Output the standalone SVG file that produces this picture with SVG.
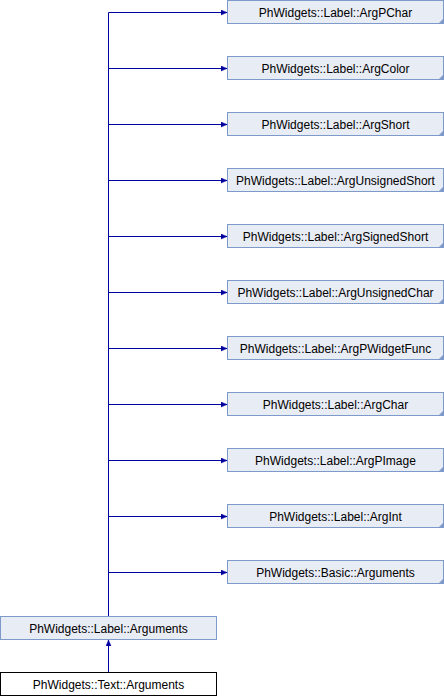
<svg xmlns="http://www.w3.org/2000/svg" width="444" height="696" viewBox="0 0 444 696">
<defs>
<style>
.n rect{fill:#E8ECF5;stroke:#7D9ACB;stroke-width:1}
.n.cur rect{fill:#FFFFFF;stroke:#000000}
.n polygon{fill:#7D9ACB}
.n text{font-family:"Liberation Sans",Arial,sans-serif;font-size:12px;fill:#000;text-anchor:middle}
.e{stroke:#0000A0;stroke-width:1;fill:none}
</style>
<marker id="ah" markerWidth="7" markerHeight="6" refX="6" refY="3" orient="auto" markerUnits="userSpaceOnUse">
<path d="M0,0.5 L6,3 L0,5.5 Z" fill="#0000A0" stroke="#0000A0" stroke-width="0.5"/>
</marker>
</defs>
<g id="connectors">
<path class="e" d="M108.5,616.5 V12.5"/>
<path class="e" d="M108.5,12.5 H227" marker-end="url(#ah)"/>
<path class="e" d="M108.5,68.5 H227" marker-end="url(#ah)"/>
<path class="e" d="M108.5,124.5 H227" marker-end="url(#ah)"/>
<path class="e" d="M108.5,180.5 H227" marker-end="url(#ah)"/>
<path class="e" d="M108.5,236.5 H227" marker-end="url(#ah)"/>
<path class="e" d="M108.5,292.5 H227" marker-end="url(#ah)"/>
<path class="e" d="M108.5,348.5 H227" marker-end="url(#ah)"/>
<path class="e" d="M108.5,404.5 H227" marker-end="url(#ah)"/>
<path class="e" d="M108.5,460.5 H227" marker-end="url(#ah)"/>
<path class="e" d="M108.5,516.5 H227" marker-end="url(#ah)"/>
<path class="e" d="M108.5,572.5 H227" marker-end="url(#ah)"/>
<path class="e" d="M108.5,672.5 V640" marker-end="url(#ah)"/>
</g>
<g id="n1" class="n"><rect x="227.5" y="0.5" width="216" height="23"/><polygon points="443.5,18.5 443.5,23.5 438.5,23.5"/><text x="335.5" y="16.5">PhWidgets::Label::ArgPChar</text></g>
<g id="n2" class="n"><rect x="227.5" y="56.5" width="216" height="23"/><polygon points="443.5,74.5 443.5,79.5 438.5,79.5"/><text x="335.5" y="72.5">PhWidgets::Label::ArgColor</text></g>
<g id="n3" class="n"><rect x="227.5" y="112.5" width="216" height="23"/><polygon points="443.5,130.5 443.5,135.5 438.5,135.5"/><text x="335.5" y="128.5">PhWidgets::Label::ArgShort</text></g>
<g id="n4" class="n"><rect x="227.5" y="168.5" width="216" height="23"/><polygon points="443.5,186.5 443.5,191.5 438.5,191.5"/><text x="335.5" y="184.5">PhWidgets::Label::ArgUnsignedShort</text></g>
<g id="n5" class="n"><rect x="227.5" y="224.5" width="216" height="23"/><polygon points="443.5,242.5 443.5,247.5 438.5,247.5"/><text x="335.5" y="240.5">PhWidgets::Label::ArgSignedShort</text></g>
<g id="n6" class="n"><rect x="227.5" y="280.5" width="216" height="23"/><polygon points="443.5,298.5 443.5,303.5 438.5,303.5"/><text x="335.5" y="296.5">PhWidgets::Label::ArgUnsignedChar</text></g>
<g id="n7" class="n"><rect x="227.5" y="336.5" width="216" height="23"/><polygon points="443.5,354.5 443.5,359.5 438.5,359.5"/><text x="335.5" y="352.5">PhWidgets::Label::ArgPWidgetFunc</text></g>
<g id="n8" class="n"><rect x="227.5" y="392.5" width="216" height="23"/><polygon points="443.5,410.5 443.5,415.5 438.5,415.5"/><text x="335.5" y="408.5">PhWidgets::Label::ArgChar</text></g>
<g id="n9" class="n"><rect x="227.5" y="448.5" width="216" height="23"/><polygon points="443.5,466.5 443.5,471.5 438.5,471.5"/><text x="335.5" y="464.5">PhWidgets::Label::ArgPImage</text></g>
<g id="n10" class="n"><rect x="227.5" y="504.5" width="216" height="23"/><polygon points="443.5,522.5 443.5,527.5 438.5,527.5"/><text x="335.5" y="520.5">PhWidgets::Label::ArgInt</text></g>
<g id="n11" class="n"><rect x="227.5" y="560.5" width="216" height="23"/><polygon points="443.5,578.5 443.5,583.5 438.5,583.5"/><text x="335.5" y="576.5">PhWidgets::Basic::Arguments</text></g>
<g id="n12" class="n"><rect x="0.5" y="616.5" width="216" height="23"/><text x="108.5" y="632.5">PhWidgets::Label::Arguments</text></g>
<g id="n13" class="n cur"><rect x="0.5" y="672.5" width="216" height="23"/><text x="108.5" y="688.5">PhWidgets::Text::Arguments</text></g>
</svg>
